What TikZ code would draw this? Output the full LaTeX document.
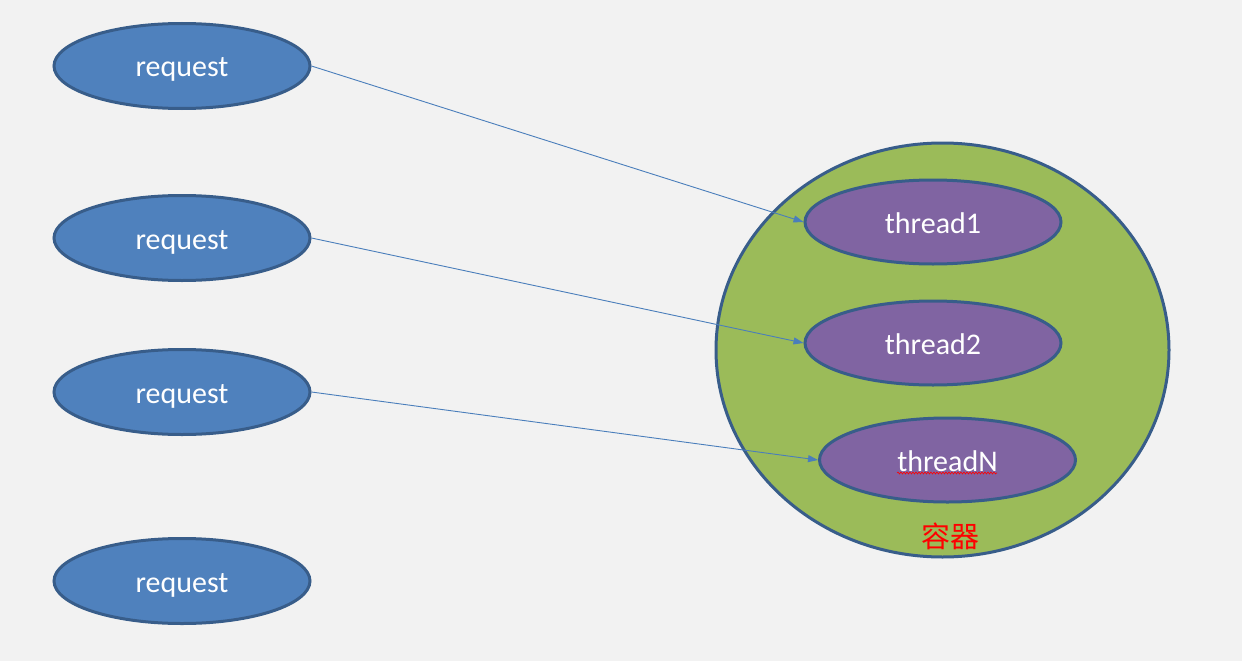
\documentclass[tikz,border=0pt]{standalone}
\usepackage{fontspec}
\setmainfont{Carlito}
\newfontfamily\cjk{Noto Sans CJK SC}
\usetikzlibrary{shapes.geometric,arrows.meta,decorations.pathmorphing}
\definecolor{bg}{HTML}{F2F2F2}
\definecolor{reqfill}{HTML}{4F81BD}
\definecolor{edge}{HTML}{385D8A}
\definecolor{green}{HTML}{9BBB59}
\definecolor{purple}{HTML}{8064A2}
\definecolor{link}{HTML}{4A7EBB}
\tikzset{
  lbltext/.style={text=white, font=\fontsize{30}{34}\selectfont, text height=22pt, text depth=0pt},
  reqbox/.style={ellipse, draw=edge, line width=3pt, fill=reqfill, minimum width=256, minimum height=85, inner sep=0pt, lbltext},
  thrbox/.style={ellipse, draw=edge, line width=3pt, fill=purple, minimum width=256, minimum height=84, inner sep=0pt, lbltext},
  cont/.style={ellipse, draw=edge, line width=3pt, fill=green, minimum width=453, minimum height=414, inner sep=0pt},
  link/.style={draw=link, line width=0.9pt, -{Triangle[length=10pt,width=7pt]}}
}
\begin{document}
\begin{tikzpicture}[x=1pt,y=-1pt]
\fill[bg] (0,0) rectangle (1242,661);
\useasboundingbox (0,0) rectangle (1242,661);
\node[cont] (c) at (942.5,350) {};
\node[reqbox] (r1) at (182,66) {request};
\node[reqbox] (r2) at (182,238) {request};
\node[reqbox] (r3) at (182,392) {request};
\node[reqbox] (r4) at (182,581) {request};
\node[thrbox] (t1) at (933,222) {thread1};
\node[thrbox] (t2) at (933,343) {thread2};
\node[thrbox] (tn) at (947.5,460) {threadN};
\node[text=red, font=\cjk\fontsize{29}{32}\selectfont] (lbl) at (950,536) {容器};
\coordinate (sqa) at (897,473);
\coordinate (sqb) at (997,473);
\draw[red, line width=0.6pt, decorate, decoration={snake, amplitude=1pt, segment length=3pt}] (sqa) -- (sqb);
\draw[link] (r1.east) -- (t1.west);
\draw[link] (r2.east) -- (t2.west);
\draw[link] (r3.east) -- (tn.west);
\end{tikzpicture}
\end{document}
